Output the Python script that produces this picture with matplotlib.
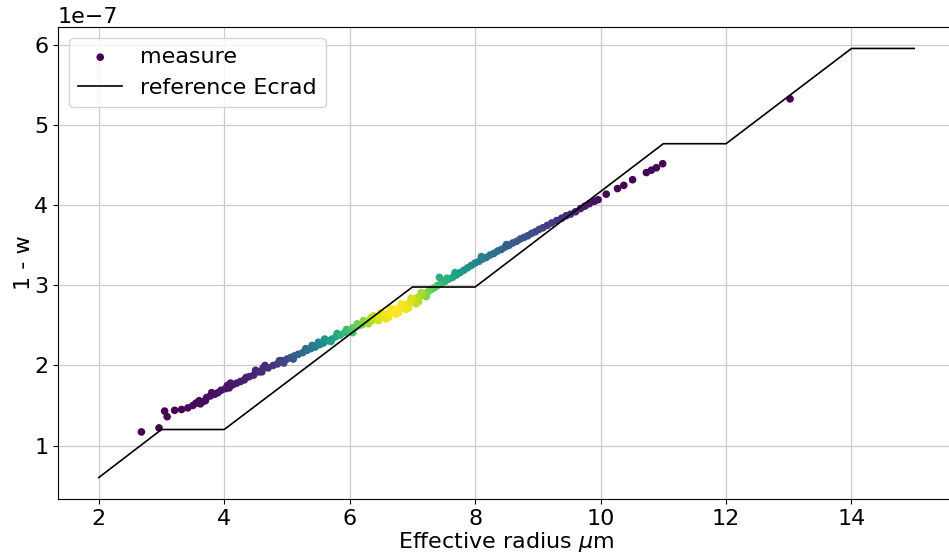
import numpy as np
import matplotlib
matplotlib.use("Agg")
import matplotlib.pyplot as plt

# reference Ecrad curve (1 - w in units of 1e-7)
ref_radius = [2, 3, 4, 7, 8, 11, 12, 14, 15]
ref_value = [0.60, 1.20, 1.20, 2.98, 2.98, 4.77, 4.77, 5.96, 5.96]

meas_radius = [
    2.68, 2.96, 3.05, 3.09, 3.21, 3.32, 3.42, 3.50, 3.55, 3.60, 3.62, 3.66, 3.72, 3.78, 3.80,
    3.85, 3.90, 3.95, 4.02, 4.05, 4.08, 4.14, 4.20, 4.26, 4.32, 4.35, 4.40, 4.47, 4.55, 4.60,
    4.62, 4.65, 4.70, 4.78, 4.85, 4.88, 4.92, 5.00, 5.06, 5.10, 5.12, 5.18, 5.25, 5.30, 5.32,
    5.38, 5.45, 5.50, 5.52, 5.58, 5.65, 5.70, 5.72, 5.78, 5.80, 5.85, 5.92, 5.95, 6.00, 6.05,
    6.05, 6.10, 6.15, 6.20, 6.24, 6.28, 6.30, 6.32, 6.36, 6.38, 6.40, 6.44, 6.46, 6.48, 6.52,
    6.56, 6.60, 6.62, 6.64, 6.68, 6.72, 6.76, 6.78, 6.80, 6.84, 6.88, 6.92, 6.94, 6.96, 7.00,
    7.04, 7.08, 7.10, 7.12, 7.16, 7.20, 7.22, 7.25, 7.30, 7.35, 7.40, 7.43, 7.46, 7.52, 7.58,
    7.64, 7.70, 7.76, 7.82, 7.88, 7.94, 8.00, 8.06, 8.12, 8.18, 8.24, 8.30, 8.36, 8.42, 8.48,
    8.54, 8.60, 8.66, 8.72, 8.78, 8.84, 8.90, 8.96, 9.02, 9.08, 9.15, 9.22, 9.30, 9.38, 9.45,
    9.52, 9.60, 9.68, 9.75, 9.82, 9.90, 9.96, 10.09, 10.27, 10.37, 10.51, 10.73, 10.81, 10.89,
    10.99, 13.02,
    6.34, 6.50, 6.58, 6.66, 6.74, 6.82, 6.90, 6.98, 7.06, 7.14, 6.22, 6.12, 5.60, 5.40, 7.55,
    7.68, 8.10, 8.50, 3.70, 4.10, 4.50, 4.95,
]
meas_value = [
    1.17, 1.22, 1.43, 1.36, 1.44, 1.45, 1.47, 1.50, 1.53, 1.56, 1.52, 1.55, 1.60, 1.62, 1.66,
    1.64, 1.66, 1.69, 1.71, 1.75, 1.72, 1.76, 1.78, 1.80, 1.82, 1.85, 1.86, 1.88, 1.92, 1.92,
    1.97, 2.00, 1.97, 2.00, 2.02, 2.06, 2.06, 2.08, 2.10, 2.08, 2.12, 2.14, 2.16, 2.21, 2.19,
    2.21, 2.23, 2.29, 2.26, 2.28, 2.31, 2.30, 2.33, 2.36, 2.40, 2.38, 2.41, 2.45, 2.44, 2.47,
    2.41, 2.48, 2.50, 2.51, 2.54, 2.53, 2.52, 2.57, 2.56, 2.62, 2.59, 2.58, 2.56, 2.62, 2.61,
    2.64, 2.63, 2.60, 2.67, 2.66, 2.70, 2.69, 2.66, 2.73, 2.72, 2.76, 2.75, 2.72, 2.79, 2.82,
    2.81, 2.85, 2.80, 2.86, 2.88, 2.90, 2.86, 2.92, 2.95, 2.97, 3.00, 3.10, 3.02, 3.05, 3.08,
    3.10, 3.13, 3.16, 3.19, 3.22, 3.25, 3.28, 3.30, 3.33, 3.35, 3.38, 3.40, 3.43, 3.45, 3.48,
    3.50, 3.53, 3.55, 3.58, 3.60, 3.62, 3.65, 3.67, 3.70, 3.72, 3.75, 3.78, 3.81, 3.84, 3.87,
    3.89, 3.92, 3.96, 3.99, 4.02, 4.05, 4.07, 4.14, 4.21, 4.25, 4.32, 4.41, 4.44, 4.47,
    4.52, 5.33,
    2.60, 2.66, 2.58, 2.71, 2.64, 2.77, 2.70, 2.84, 2.77, 2.91, 2.56, 2.52, 2.33, 2.25, 3.09,
    3.16, 3.36, 3.51, 1.56, 1.78, 1.94, 2.03,
]
meas_density = [
    0.00, 0.00, 0.00, 0.00, 0.00, 0.00, 0.02, 0.02, 0.02, 0.03, 0.03, 0.03, 0.03, 0.04, 0.04,
    0.04, 0.05, 0.05, 0.06, 0.06, 0.06, 0.07, 0.07, 0.08, 0.08, 0.08, 0.09, 0.10, 0.11, 0.11,
    0.12, 0.12, 0.13, 0.15, 0.17, 0.18, 0.19, 0.22, 0.25, 0.26, 0.28, 0.30, 0.33, 0.35, 0.36,
    0.39, 0.42, 0.44, 0.45, 0.48, 0.52, 0.55, 0.56, 0.60, 0.61, 0.64, 0.67, 0.68, 0.70, 0.73,
    0.72, 0.76, 0.78, 0.80, 0.83, 0.85, 0.86, 0.87, 0.89, 0.90, 0.91, 0.93, 0.94, 0.95, 0.96,
    0.97, 0.98, 0.98, 0.99, 1.00, 1.00, 1.00, 0.99, 0.99, 0.98, 0.97, 0.96, 0.96, 0.95, 0.93,
    0.91, 0.89, 0.88, 0.87, 0.85, 0.82, 0.81, 0.79, 0.76, 0.73, 0.70, 0.62, 0.67, 0.64, 0.61,
    0.58, 0.56, 0.54, 0.52, 0.50, 0.48, 0.46, 0.44, 0.42, 0.40, 0.38, 0.36, 0.34, 0.32, 0.30,
    0.29, 0.28, 0.27, 0.26, 0.25, 0.24, 0.23, 0.22, 0.21, 0.20, 0.18, 0.17, 0.15, 0.14, 0.13,
    0.12, 0.10, 0.08, 0.07, 0.06, 0.04, 0.03, 0.01, 0.00, 0.00, 0.00, 0.00, 0.00, 0.00,
    0.00, 0.00,
    0.90, 0.96, 0.97, 0.99, 1.00, 0.99, 0.97, 0.94, 0.90, 0.86, 0.82, 0.77, 0.50, 0.40, 0.63,
    0.57, 0.43, 0.30, 0.03, 0.06, 0.10, 0.20,
]

x = np.array(meas_radius)
y = np.array(meas_value) * 1e-7
c = np.array(meas_density)
order = np.argsort(c, kind="stable")

fig = plt.figure(figsize=(9.49, 5.54), dpi=100)
ax = fig.add_axes([58 / 949, 55 / 554, 897 / 949, 472 / 554])

ax.scatter(x[order], y[order], c=c[order], cmap="viridis", s=20, label="measure", zorder=2)
ax.plot(ref_radius, np.array(ref_value) * 1e-7, color="black", lw=1.2, label="reference Ecrad", zorder=3)

ax.grid(True, color="#cccccc", lw=0.9)
ax.set_axisbelow(True)
ax.tick_params(labelsize=16)
ax.yaxis.get_offset_text().set_fontsize(16)
ax.set_xlabel(r"Effective radius $\mu$m", fontsize=16, labelpad=1)
ax.set_ylabel("1 - w", fontsize=16, labelpad=0)
ax.legend(loc="upper left", fontsize=16)

fig.savefig("out.png", dpi=100)
